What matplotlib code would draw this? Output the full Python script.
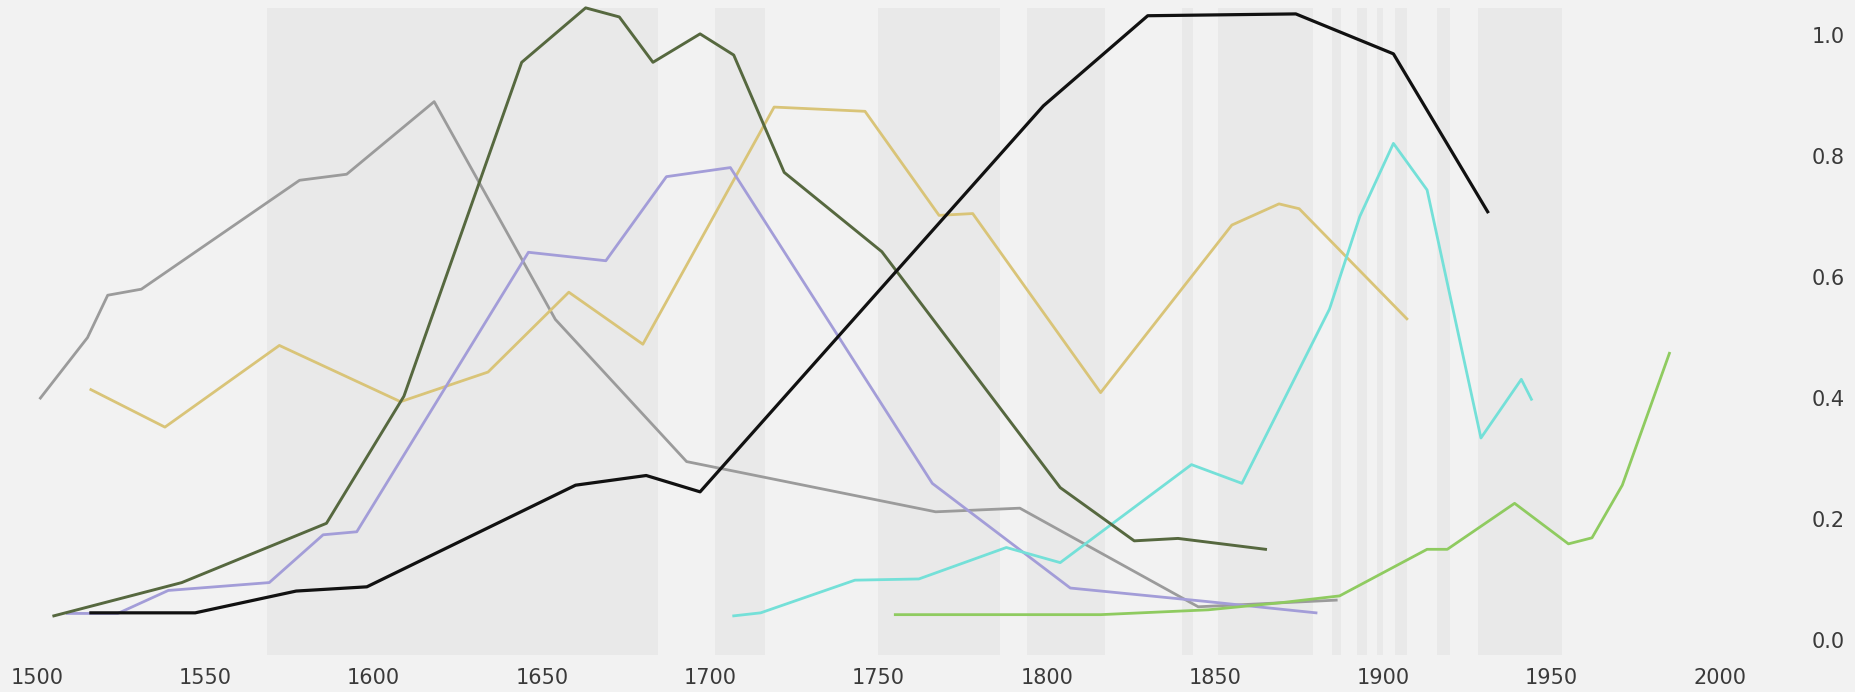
import matplotlib
matplotlib.use("Agg")
import matplotlib.pyplot as plt

# periodi evidenziati (bande grigie)
band_start = [1568.3, 1701.4, 1749.9, 1794.1, 1840.2, 1850.9, 1884.7, 1892.2, 1898.1, 1903.4, 1915.9, 1928.1]
band_end = [1684.6, 1716.3, 1786.1, 1817.3, 1843.6, 1879.1, 1887.5, 1895.1, 1900.0, 1907.0, 1919.8, 1953.1]

# serie
gray_x = [1501, 1515, 1521, 1531, 1578, 1592, 1618, 1654, 1693, 1767, 1792, 1845, 1886]
gray_y = [0.40, 0.50, 0.57, 0.58, 0.76, 0.77, 0.89, 0.53, 0.295, 0.212, 0.218, 0.055, 0.066]

olive_x = [1505, 1543, 1586, 1609, 1644, 1663, 1673, 1683, 1697, 1707, 1722, 1751, 1804, 1826, 1839, 1865]
olive_y = [0.040, 0.095, 0.193, 0.403, 0.955, 1.045, 1.030, 0.955, 1.002, 0.967, 0.773, 0.642, 0.252, 0.164, 0.168, 0.150]

purple_x = [1509, 1524, 1539, 1569, 1585, 1595, 1646, 1669, 1687, 1706, 1766, 1807, 1847, 1880]
purple_y = [0.044, 0.044, 0.082, 0.095, 0.174, 0.179, 0.641, 0.627, 0.766, 0.781, 0.259, 0.086, 0.064, 0.045]

yellow_x = [1516, 1538, 1572, 1608, 1634, 1658, 1680, 1719, 1746, 1768, 1778, 1816, 1855, 1869, 1875, 1907]
yellow_y = [0.414, 0.352, 0.487, 0.394, 0.443, 0.575, 0.489, 0.881, 0.874, 0.702, 0.705, 0.409, 0.686, 0.721, 0.713, 0.531]

cyan_x = [1707, 1715, 1743, 1762, 1788, 1804, 1843, 1858, 1884, 1893, 1903, 1913, 1929, 1941, 1944]
cyan_y = [0.040, 0.045, 0.099, 0.101, 0.153, 0.128, 0.290, 0.259, 0.547, 0.700, 0.821, 0.744, 0.334, 0.431, 0.398]

green_x = [1755, 1816, 1848, 1870, 1887, 1913, 1919, 1939, 1955, 1962, 1971, 1985]
green_y = [0.042, 0.042, 0.050, 0.062, 0.073, 0.150, 0.150, 0.226, 0.159, 0.169, 0.256, 0.474]

black_x = [1516, 1547, 1577, 1598, 1660, 1681, 1697, 1799, 1830, 1874, 1903, 1931]
black_y = [0.045, 0.045, 0.081, 0.088, 0.256, 0.272, 0.245, 0.883, 1.032, 1.035, 0.969, 0.708]

x_ticks = [1500, 1550, 1600, 1650, 1700, 1750, 1800, 1850, 1900, 1950, 2000]
y_ticks = [0.0, 0.2, 0.4, 0.6, 0.8, 1.0]

bg = "#f2f2f2"
fig = plt.figure(figsize=(18.55, 6.92), dpi=100, facecolor=bg)
ax = fig.add_axes([0, 35 / 692, 1800 / 1855, 657 / 692])
ax.set_facecolor(bg)

for s, e in zip(band_start, band_end):
    ax.axvspan(s, e, ymin=0.003, ymax=0.988, color="#e9e9e9", lw=0, zorder=0)

ax.plot(gray_x, gray_y, color="#9b9b9b", lw=2.0, zorder=2)
ax.plot(yellow_x, yellow_y, color="#d9c478", lw=2.0, zorder=2)
ax.plot(purple_x, purple_y, color="#a39dd8", lw=2.0, zorder=3)
ax.plot(cyan_x, cyan_y, color="#74e0d8", lw=2.0, zorder=3)
ax.plot(green_x, green_y, color="#8fcb60", lw=2.0, zorder=3)
ax.plot(olive_x, olive_y, color="#56683f", lw=2.1, zorder=4)
ax.plot(black_x, black_y, color="#111111", lw=2.3, zorder=5)

ax.set_xlim(1489.0, 2023.8)
ax.set_ylim(-0.028, 1.058)

ax.set_xticks(x_ticks)
ax.set_xticklabels([str(t) for t in x_ticks])
ax.set_yticks(y_ticks)
ax.set_yticklabels([f"{t:.1f}" for t in y_ticks])
ax.yaxis.tick_right()
ax.tick_params(axis="x", length=0, pad=8, labelsize=15, labelcolor="#3a3a3a")
ax.tick_params(axis="y", length=0, pad=8.5, labelsize=15, labelcolor="#3a3a3a")
for sp in ax.spines.values():
    sp.set_visible(False)

fig.savefig("out.png", dpi=100, facecolor=bg)
